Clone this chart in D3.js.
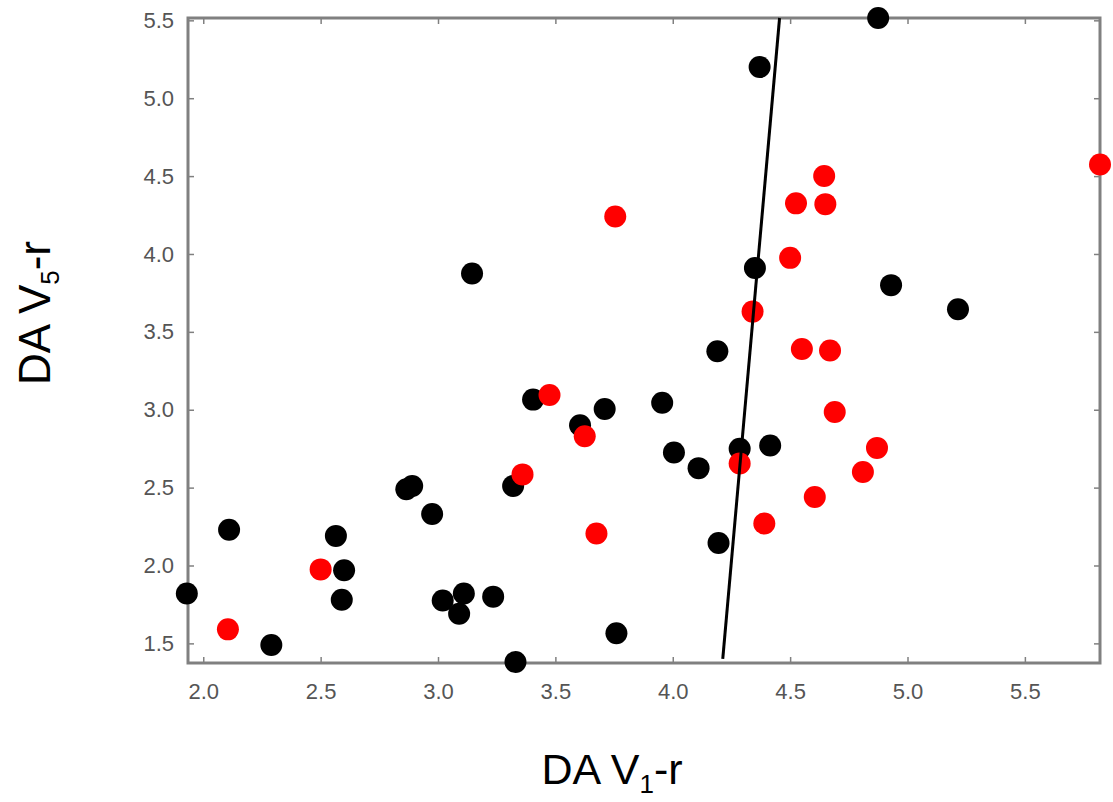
<!DOCTYPE html>
<html>
<head>
<meta charset="utf-8">
<script src="https://cdn.jsdelivr.net/npm/d3@7"></script>
<style>
  html, body { margin: 0; padding: 0; background: #fff; }
  svg { display: block; }
  text { font-family: "Liberation Sans", Arial, Helvetica, sans-serif; }
</style>
</head>
<body>
<svg id="chart" width="1113" height="802"></svg>
<script>
// ---- data ----
const blackX = [1.93, 2.11, 2.29, 2.565, 2.60, 2.59, 2.865, 2.89, 2.975, 3.02, 3.11, 3.09, 3.235, 3.32, 3.33, 3.405, 3.145, 3.605, 3.71, 3.955, 4.005, 4.11, 4.19, 4.195, 3.76, 4.285, 4.415, 4.35, 4.37, 4.875, 4.93, 5.215];
const blackY = [1.82, 2.23, 1.49, 2.19, 1.97, 1.78, 2.49, 2.51, 2.33, 1.775, 1.82, 1.69, 1.80, 2.51, 1.38, 3.065, 3.875, 2.90, 3.005, 3.045, 2.725, 2.625, 3.375, 2.145, 1.565, 2.75, 2.77, 3.91, 5.20, 5.515, 3.80, 3.645];
const redX = [2.105, 2.50, 3.36, 3.475, 3.625, 3.675, 3.755, 4.285, 4.34, 4.39, 4.50, 4.525, 4.645, 4.65, 4.55, 4.67, 4.69, 4.605, 4.81, 4.87, 5.82];
const redY = [1.59, 1.975, 2.585, 3.095, 2.83, 2.205, 4.24, 2.655, 3.63, 2.27, 3.975, 4.325, 4.50, 4.32, 3.39, 3.38, 2.985, 2.44, 2.60, 2.755, 4.575];
const lineX = [4.213, 4.455];
const lineY = [1.40, 5.515];
const xTicks = [2.0, 2.5, 3.0, 3.5, 4.0, 4.5, 5.0, 5.5];
const yTicks = [1.5, 2.0, 2.5, 3.0, 3.5, 4.0, 4.5, 5.0, 5.5];
const xDomain = [1.935, 5.82];
const yDomain = [1.374, 5.515];
const xTitle = ["DA V", "1", "-r"];
const yTitle = ["DA V", "5", "-r"];

// ---- layout ----
const svg = d3.select("#chart");
const padL = 188, padR = 1100, padT = 18, padB = 663;
const x = d3.scaleLinear().domain(xDomain).range([padL, padR]);
const y = d3.scaleLinear().domain(yDomain).range([padB, padT]);
const axisColor = "#808080";
const labelColor = "#555555";

function styleAxis(g) {
  g.select(".domain").remove();
  g.selectAll(".tick line").attr("stroke", axisColor).attr("stroke-width", 1.5);
  g.selectAll(".tick text").attr("fill", labelColor)
    .style("font-size", "22px").style("font-family", "'Liberation Sans', Arial, sans-serif");
}

svg.append("g").attr("transform", `translate(0,${padB})`)
  .call(d3.axisBottom(x).tickValues(xTicks).tickFormat(d3.format(".1f")).tickSize(-6).tickPadding(20))
  .call(styleAxis);
svg.append("g").attr("transform", `translate(0,${padT})`)
  .call(d3.axisTop(x).tickValues(xTicks).tickFormat("").tickSize(-6))
  .call(styleAxis);
svg.append("g").attr("transform", `translate(${padL},0)`)
  .call(d3.axisLeft(y).tickValues(yTicks).tickFormat(d3.format(".1f")).tickSize(-6).tickPadding(14))
  .call(styleAxis);
svg.append("g").attr("transform", `translate(${padR},0)`)
  .call(d3.axisRight(y).tickValues(yTicks).tickFormat("").tickSize(-6))
  .call(styleAxis);

// frame
svg.append("rect")
  .attr("x", padL).attr("y", padT)
  .attr("width", padR - padL).attr("height", padB - padT)
  .attr("fill", "none").attr("stroke", axisColor).attr("stroke-width", 3);

// points
const R = 11;
svg.append("g").selectAll("circle")
  .data(d3.zip(blackX, blackY)).join("circle")
  .attr("cx", d => x(d[0])).attr("cy", d => y(d[1])).attr("r", R)
  .attr("fill", "#000");
svg.append("g").selectAll("circle")
  .data(d3.zip(redX, redY)).join("circle")
  .attr("cx", d => x(d[0])).attr("cy", d => y(d[1])).attr("r", R)
  .attr("fill", "#ff0000");

// fitted line
svg.append("path")
  .datum(d3.zip(lineX, lineY))
  .attr("d", d3.line().x(d => x(d[0])).y(d => y(d[1])))
  .attr("stroke", "#000").attr("stroke-width", 3).attr("fill", "none");

// titles
function title(g, parts, size) {
  const t = g.append("text").attr("text-anchor", "middle")
    .style("font-size", size + "px").attr("fill", "#000");
  t.append("tspan").text(parts[0]);
  t.append("tspan").text(parts[1]).style("font-size", Math.round(size * 0.6) + "px").attr("dy", size * 0.2);
  t.append("tspan").text(parts[2]).attr("dy", -size * 0.2);
  return t;
}
title(svg.append("g").attr("transform", "translate(612,784)"), xTitle, 43);
title(svg.append("g").attr("transform", "translate(50,313) rotate(-90)"), yTitle, 44);
</script>
</body>
</html>
